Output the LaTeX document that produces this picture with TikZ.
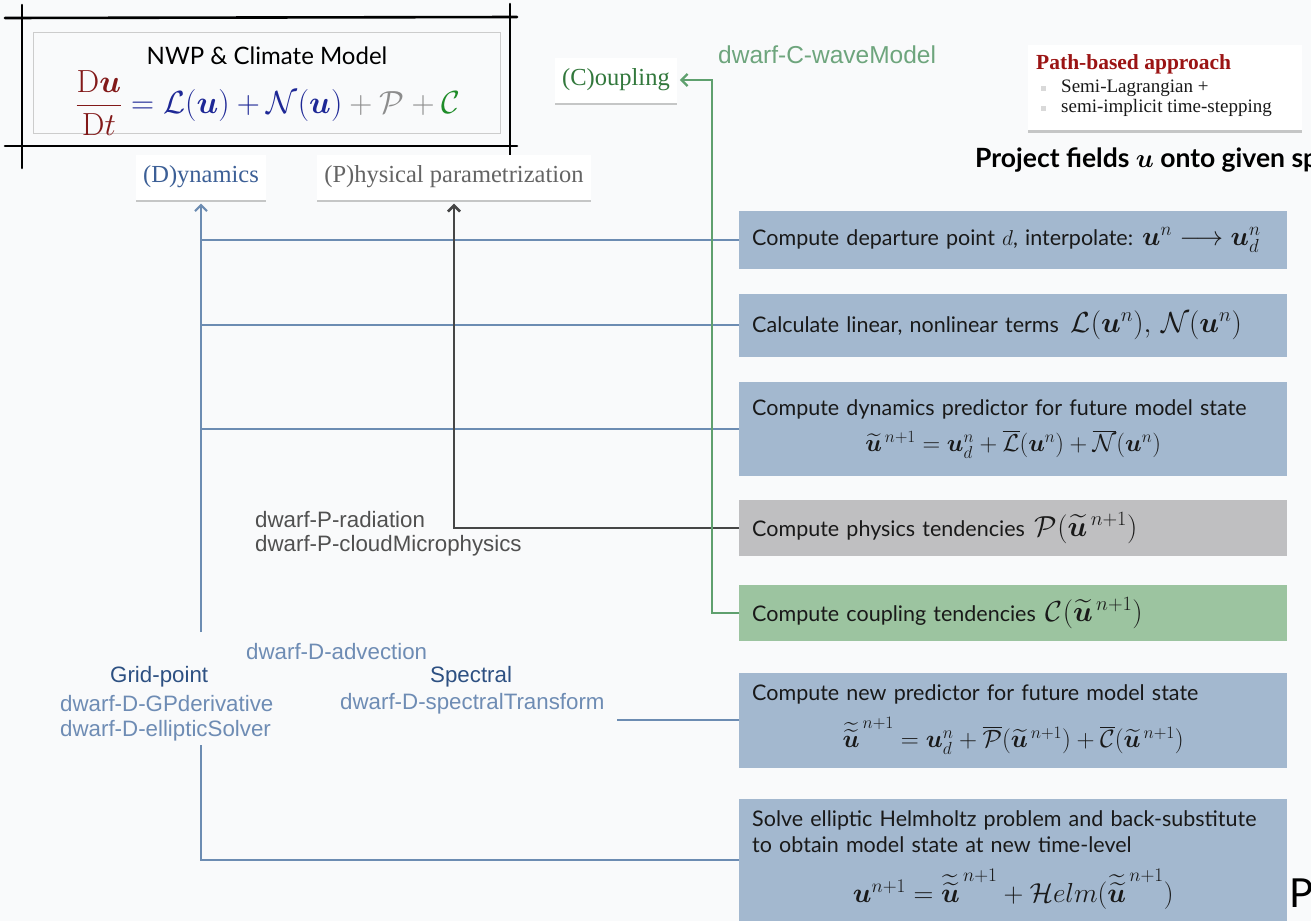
\documentclass[tikz,border=0pt]{standalone}
\usepackage{fix-cm}
\usepackage{amsmath,amssymb}
\usepackage{bm}
\usepackage{fontspec}
\usetikzlibrary{arrows.meta,shadows}

\newfontfamily\boxfont{Lato}
\newfontfamily\arialfont{Liberation Sans}
\newfontfamily\timesfont{Liberation Serif}

\definecolor{bgc}{RGB}{249,250,251}
\definecolor{boxblue}{RGB}{163,184,207}
\definecolor{boxgray}{RGB}{191,191,193}
\definecolor{boxgreen}{RGB}{156,196,160}
\definecolor{lineblue}{RGB}{108,140,178}
\definecolor{linedark}{RGB}{70,70,70}
\definecolor{linegreen}{RGB}{95,160,110}
\definecolor{dred}{RGB}{130,25,25}
\definecolor{pathred}{RGB}{155,20,20}
\definecolor{navy}{RGB}{30,40,150}
\definecolor{pgray}{RGB}{140,140,140}
\definecolor{cgreen}{RGB}{30,140,40}
\definecolor{dynblue}{RGB}{60,95,150}
\definecolor{physgray}{RGB}{100,100,100}
\definecolor{coupgreen}{RGB}{50,120,60}
\definecolor{dwarfc}{RGB}{110,165,125}
\definecolor{dwarfd}{RGB}{110,140,180}
\definecolor{dwarfhead}{RGB}{45,80,130}
\definecolor{dwarfp}{RGB}{80,80,80}
\definecolor{txt}{RGB}{25,25,25}

\newcommand{\uu}{\bm u}
\newcommand{\ut}{\widetilde{\bm u}}
\newcommand{\utt}{\widetilde{\widetilde{\bm u}}}
% inline math and display formulas inside the step boxes
\newcommand{\inl}[1]{{\fontsize{29}{30}\selectfont$#1$}}
\newcommand{\fml}[2]{\makebox[522pt]{\fontsize{#1}{#1}\selectfont$#2$}}

\tikzset{
  stepbox/.style={anchor=west, minimum width=548pt, text width=522pt,
    inner xsep=13pt, inner ysep=0pt, align=left, text=txt,
    font=\boxfont\fontsize{21.5}{26}\selectfont},
  bluebox/.style={stepbox, fill=boxblue},
  graybox/.style={stepbox, fill=boxgray},
  greenbox/.style={stepbox, fill=boxgreen},
  tagbox/.style={fill=white, inner xsep=7pt, minimum height=45pt,
    drop shadow={shadow xshift=0pt, shadow yshift=-2.5pt, opacity=0.35, fill=black!60},
    font=\timesfont\fontsize{24.5}{29}\selectfont},
  dwarf/.style={anchor=west, inner sep=0pt, font=\arialfont\fontsize{22.3}{26}\selectfont},
  dline/.style={draw=lineblue, line width=2pt},
  pline/.style={draw=linedark, line width=2.6pt},
  cline/.style={draw=linegreen, line width=2.2pt},
  tip/.style={-{Straight Barb[length=6pt,width=12pt]}},
  frame/.style={draw=black, line width=2.6pt, line cap=round},
}

\begin{document}
\begin{tikzpicture}[x=1pt,y=-1pt]
\path[use as bounding box] (0,0) rectangle (1311,921);
\clip (0,0) rectangle (1311,921);
\fill[bgc] (0,0) rectangle (1311,921);

% model equation in its sketched frame
\draw[black!20, line width=0.8pt] (33,32) rectangle (500,133);
\draw[frame] (5,18) -- (517,17);
\draw[frame] (5,146) -- (517,146);
\draw[frame] (22,5) -- (22,168);
\draw[frame] (510,4) -- (510,157);
\node[font=\boxfont\fontsize{24}{29}\selectfont, text=black] (title) at (267,56) {NWP \& Climate Model};
\node[inner sep=0pt] (eq) at (268,103) {\fontsize{32}{38}\selectfont
  $\displaystyle \color{dred}\frac{\mathrm{D}\uu}{\mathrm{D}t}
   \color{navy}= \mathcal{L}(\uu) + \mathcal{N}(\uu)
   \color{pgray}+ \mathcal{P} + \color{cgreen}\mathcal{C}$};

% component tags
\node[tagbox, text=dynblue] (dyn) at (201,177) {(D)ynamics};
\node[tagbox, text=physgray] (phys) at (454,177) {(P)hysical parametrization};
\node[tagbox, text=coupgreen] (coup) at (616,80) {(C)oupling};

% path-based approach box
\node[fill=white, anchor=north west, minimum width=274pt, minimum height=85pt,
  drop shadow={shadow xshift=0pt, shadow yshift=-2.5pt, opacity=0.35, fill=black!60}] (pathbox) at (1028,45) {};
\node[anchor=west, inner sep=0pt, text=pathred, font=\timesfont\bfseries\fontsize{21.5}{25}\selectfont] (pathtitle) at (1036,64) {Path-based approach};
\node[fill=black!15, minimum size=5pt, inner sep=0pt] (bull1) at (1043,88) {};
\node[fill=black!15, minimum size=5pt, inner sep=0pt] (bull2) at (1043,108) {};
\node[anchor=west, inner sep=0pt, text=txt, font=\timesfont\fontsize{19}{22}\selectfont] (semi1) at (1061,88) {Semi-Lagrangian +};
\node[anchor=west, inner sep=0pt, text=txt, font=\timesfont\fontsize{19}{22}\selectfont] (semi2) at (1061,108) {semi-implicit time-stepping};

\node[anchor=west, inner sep=0pt, text=black, font=\boxfont\bfseries\fontsize{26.5}{31}\selectfont] (proj) at (975,160) {Project fields $\bm{u}$ onto given sp};

% dwarf labels
\node[dwarf, text=dwarfc, font=\arialfont\fontsize{24.5}{29}\selectfont] (dwc) at (718,55) {dwarf-C-waveModel};
\node[dwarf, text=dwarfp] (dwp1) at (255,520) {dwarf-P-radiation};
\node[dwarf, text=dwarfp] (dwp2) at (255,546) {dwarf-P-cloudMicrophysics};
\node[dwarf, text=dwarfd] (dwadv) at (246,652) {dwarf-D-advection};
\node[dwarf, text=dwarfhead] (grid) at (110,677) {Grid-point};
\node[dwarf, text=dwarfd] (dwgp) at (60,704) {dwarf-D-GPderivative};
\node[dwarf, text=dwarfd] (dwell) at (60,731) {dwarf-D-ellipticSolver};
\node[dwarf, text=dwarfhead] (spec) at (430,677) {Spectral};
\node[dwarf, text=dwarfd] (dwspec) at (340,704) {dwarf-D-spectralTransform};

% algorithm steps
\node[bluebox, minimum height=58pt] (b1) at (739,240)
  {\mbox{Compute departure point $d$, interpolate:\hspace{9pt}{\fontsize{27}{28}\selectfont$\uu^n \longrightarrow \uu^n_d$}}};
\node[bluebox, minimum height=63pt] (b2) at (739,325)
  {Calculate linear,\ nonlinear terms\hspace{12pt}\inl{\mathcal{L}(\uu^n),\, \mathcal{N}(\uu^n)}};
\node[bluebox, minimum height=94pt] (b3) at (739,429)
  {Compute dynamics predictor for future model state\\[10pt]
   \fml{24.5}{\ut^{\,n+1} = \uu^n_d + \overline{\mathcal{L}}(\uu^n) + \overline{\mathcal{N}}(\uu^n)}};
\node[graybox, minimum height=56pt] (b4) at (739,528)
  {Compute physics tendencies\hspace{10pt}\inl{\mathcal{P}(\ut^{\,n+1})}};
\node[greenbox, minimum height=56pt] (b5) at (739,613)
  {Compute coupling tendencies\hspace{10pt}\inl{\mathcal{C}(\ut^{\,n+1})}};
\node[bluebox, minimum height=95pt] (b6) at (739,720)
  {Compute new predictor for future model state\\[12pt]
   \fml{25}{\utt^{\,n+1} = \uu^n_d + \overline{\mathcal{P}}(\ut^{\,n+1}) + \overline{\mathcal{C}}(\ut^{\,n+1})}};
\node[bluebox, minimum height=122pt] (b7) at (739,860)
  {Solve elliptic Helmholtz problem and back-substitute\\
   to obtain model state at new time-level\\[16pt]
   \fml{27.5}{\uu^{n+1} = \utt^{\,n+1} + \mathcal{H}elm(\utt^{\,n+1})}};

\node[anchor=west, inner sep=0pt, text=black, font=\boxfont\fontsize{40}{44}\selectfont] (pcut) at (1289,893) {P};

% dynamics connectors
\coordinate (dgap) at (201,632);
\coordinate (dlow) at (201,745);
\coordinate (specend) at ([xshift=12pt]dwspec.east);
\draw[dline, tip, shorten >=4pt] (dgap) -- (dyn.south);
\draw[dline] (b1.west) -- (b1.west -| dgap);
\draw[dline] (b2.west) -- (b2.west -| dgap);
\draw[dline] (b3.west) -- (b3.west -| dgap);
\draw[dline] (dlow) |- (b7.west);
\draw[dline] (b6.west) -- (b6.west -| specend);

% physics connector
\draw[pline, tip, shorten >=4pt] (b4.west) -| (phys.south);

% coupling connector
\coordinate (cturn) at (712,80);
\draw[cline, tip, shorten >=3pt] (b5.west) -| (cturn) -- (coup.east);
\end{tikzpicture}
\end{document}
